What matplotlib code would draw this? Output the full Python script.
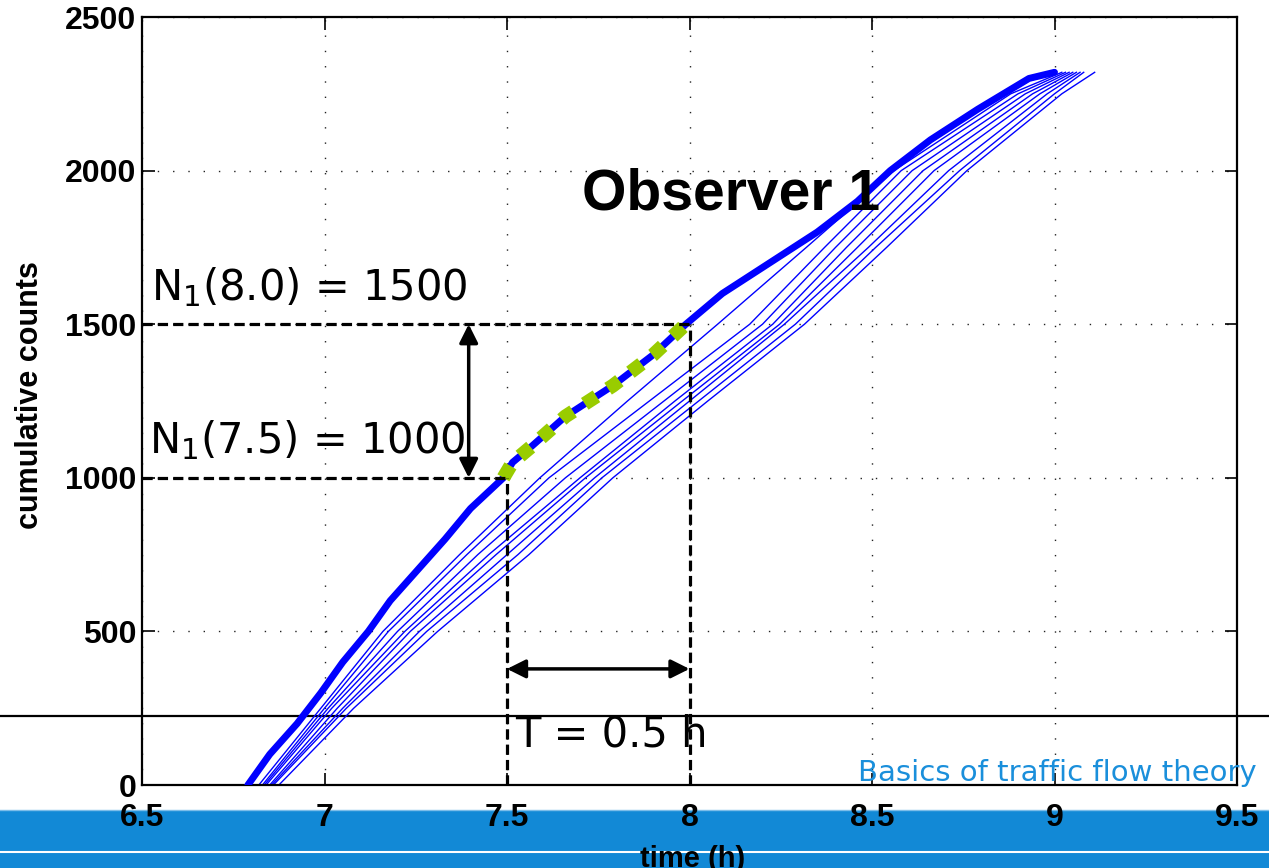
import matplotlib.pyplot as plt
from matplotlib.lines import Line2D
from matplotlib.patches import Rectangle
import numpy as np

plt.rcParams['font.family'] = ['Liberation Sans', 'DejaVu Sans']
plt.rcParams['mathtext.fontset'] = 'dejavusans'

###  DATA  ###

# observer 1 (thick curve): time (h) at which each cumulative count is reached
n_obs1 = [0, 100, 200, 300, 400, 500, 600, 700, 800, 900, 1000, 1050, 1100, 1200,
          1300, 1400, 1500, 1600, 1700, 1800, 1900, 2000, 2100, 2200, 2300, 2320]
t_obs1 = [6.79, 6.85, 6.925, 6.99, 7.05, 7.12, 7.18, 7.255, 7.33, 7.40, 7.49,
          7.515, 7.565, 7.66, 7.79, 7.90, 7.99, 8.09, 8.22, 8.35, 8.46, 8.55,
          8.66, 8.79, 8.93, 9.00]

# other observers (thin curves)
n_obs = [0, 250, 500, 750, 1000, 1250, 1500, 1750, 2000, 2250, 2320]
t_obs = [
    [6.82, 6.99, 7.16, 7.37, 7.59, 7.83, 8.077, 8.32, 8.56, 8.88, 9.02],
    [6.83, 7.00, 7.175, 7.39, 7.615, 7.89, 8.165, 8.37, 8.58, 8.90, 9.03],
    [6.835, 7.01, 7.20, 7.42, 7.66, 7.93, 8.20, 8.40, 8.61, 8.92, 9.04],
    [6.84, 7.02, 7.22, 7.45, 7.70, 7.96, 8.228, 8.43, 8.64, 8.94, 9.05],
    [6.85, 7.035, 7.235, 7.47, 7.715, 7.98, 8.247, 8.46, 8.67, 8.96, 9.06],
    [6.855, 7.05, 7.26, 7.50, 7.74, 8.00, 8.26, 8.49, 8.71, 8.98, 9.07],
    [6.86, 7.06, 7.28, 7.53, 7.76, 8.025, 8.29, 8.51, 8.74, 9.00, 9.08],
    [6.875, 7.08, 7.31, 7.56, 7.79, 8.05, 8.315, 8.54, 8.76, 9.02, 9.11],
]

t1, t2 = 7.5, 8.0
N1_t1, N1_t2 = 1000, 1500

xticks = [6.5, 7, 7.5, 8, 8.5, 9, 9.5]
xticklabels = ['6.5', '7', '7.5', '8', '8.5', '9', '9.5']
yticks = [0, 500, 1000, 1500, 2000, 2500]

###  PLOT  ###

fig = plt.figure(figsize=(12.69, 8.68), dpi=100)
ax = fig.add_axes([0.1119, 0.0956, 0.8629, 0.8848])

for t in t_obs:
    ax.plot(t, n_obs, color='#0000ff', lw=1.0, zorder=2)
ax.plot(t_obs1, n_obs1, color='#0000ff', lw=5, zorder=3, solid_capstyle='round')

# slope between t1 and t2
t_arr = np.array(t_obs1)
n_arr = np.array(n_obs1)
sel = (t_arr >= t1 - 0.01) & (t_arr <= t2)
ax.plot(t_arr[sel], n_arr[sel], color='#99cc00', lw=10, ls=(0, (1, 1)),
        dash_capstyle='butt', zorder=4)

# helper lines
dash = dict(color='k', lw=2.3, ls=(0, (3.2, 1.6)), zorder=5, clip_on=False)
ax.plot([6.5, t2], [N1_t2, N1_t2], **dash)
ax.plot([6.5, t1], [N1_t1, N1_t1], **dash)
ax.plot([t1, t1], [0, N1_t1], **dash)
ax.plot([t2, t2], [0, N1_t2], **dash)

arrow = dict(arrowstyle='<|-|>', color='k', lw=2.5, mutation_scale=28,
             shrinkA=0, shrinkB=0)
ax.annotate('', xy=(7.395, N1_t2), xytext=(7.395, N1_t1), arrowprops=arrow, zorder=6)
ax.annotate('', xy=(t1, 378), xytext=(t2, 378), arrowprops=arrow, zorder=6)

ax.text(6.525, 1578, 'N$_1$(8.0) = 1500', fontsize=30, family='DejaVu Sans', va='baseline')
ax.text(6.52, 1081, 'N$_1$(7.5) = 1000', fontsize=30, family='DejaVu Sans', va='baseline')
ax.text(7.522, 127, 'T = 0.5 h', fontsize=30, family='DejaVu Sans', va='baseline', zorder=7)
ax.text(7.706, 1872, 'Observer 1', fontsize=41, fontweight='bold', va='baseline', zorder=7)

ax.set_xlim(6.5, 9.5)
ax.set_ylim(0, 2500)
ax.set_xticks(xticks)
ax.set_xticklabels(xticklabels)
ax.set_yticks(yticks)
ax.tick_params(direction='in', length=9, width=1.2, top=True, right=True,
               labelsize=23)
ax.tick_params(axis='x', pad=13)
ax.tick_params(axis='y', pad=4)
for lab in ax.get_xticklabels() + ax.get_yticklabels():
    lab.set_fontweight('bold')
for sp in ax.spines.values():
    sp.set_linewidth(1.6)

ax.grid(True, color='#222222', ls=(0, (1, 10)), lw=1.0)
ax.set_axisbelow(True)

ax.set_ylabel('cumulative counts', fontsize=22, fontweight='bold')
ax.yaxis.set_label_coords(-0.089, 0.508)
ax.set_xlabel('time (h)', fontsize=21, fontweight='bold')
ax.xaxis.set_label_coords(0.503, -0.078)

# slide decoration
ax.add_line(Line2D([0, 1], [(868 - 716) / 868] * 2, transform=fig.transFigure,
                   color='k', lw=1.6, clip_on=False, zorder=1))
fig.patches.append(Rectangle((0, 0), 1, 0.0668, transform=fig.transFigure,
                             facecolor='#1289d6', edgecolor='none', zorder=-2))
fig.lines.append(Line2D([0, 1], [0.0668, 0.0668], transform=fig.transFigure,
                        color='#7cbde9', lw=1.0, zorder=-1))
fig.lines.append(Line2D([0, 1], [0.019, 0.019], transform=fig.transFigure,
                        color='white', lw=1.5, zorder=-1))
fig.text(1257 / 1269, 0.100, 'Basics of traffic flow theory', fontsize=21,
         family='DejaVu Sans', color='#1a8fdb', ha='right', va='baseline')

fig.savefig('out.png', dpi=100)
